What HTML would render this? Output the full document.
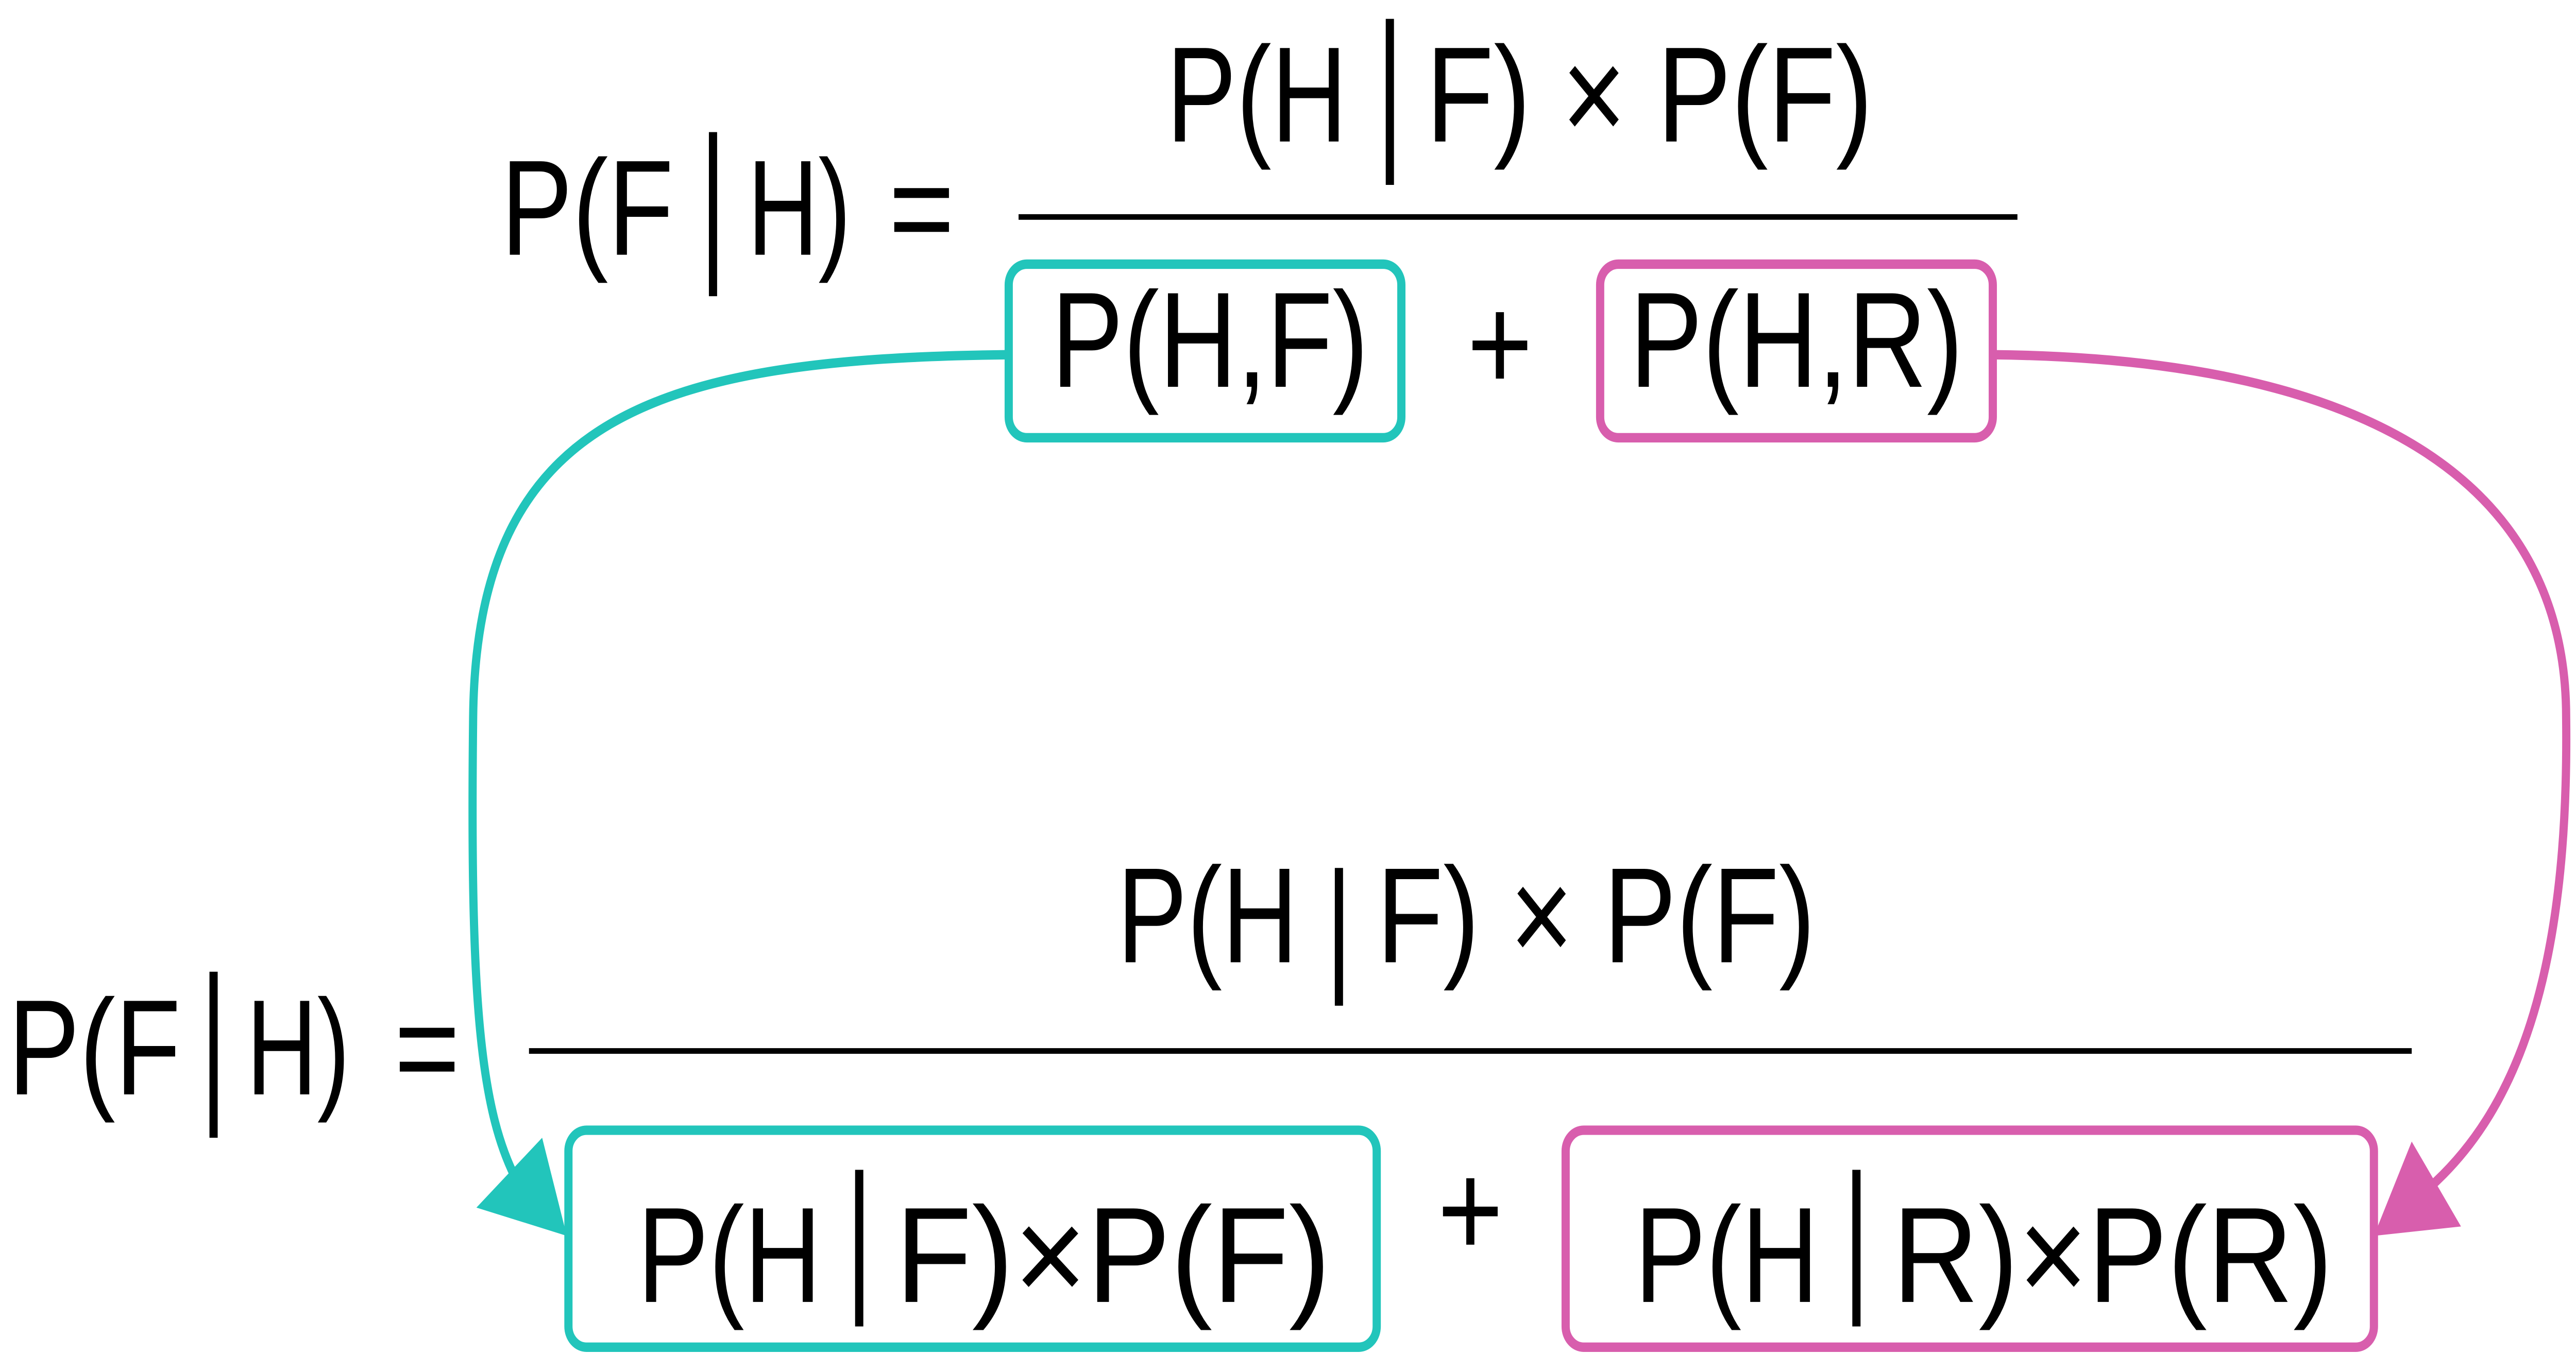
<!DOCTYPE html>
<html><head><meta charset="utf-8"><style>
html,body{margin:0;padding:0;background:#fff;width:100%;height:100%;overflow:hidden}
svg{display:block;position:fixed;left:0;top:0;width:100vw;height:100vh}
text{font-family:"Liberation Sans",sans-serif;font-size:72px;fill:#000}
</style></head><body>
<svg viewBox="0 0 1568 717.6" preserveAspectRatio="none" xmlns="http://www.w3.org/2000/svg">
<g>
<text x="305" y="135" textLength="105" lengthAdjust="spacingAndGlyphs">P(F</text>
<line x1="434" y1="70" x2="434" y2="157" stroke="#000" stroke-width="5"/>
<text x="455" y="135" textLength="63" lengthAdjust="spacingAndGlyphs">H)</text>
<text x="541" y="135" textLength="40" lengthAdjust="spacingAndGlyphs">=</text>
<text x="710" y="75" textLength="110" lengthAdjust="spacingAndGlyphs">P(H</text>
<line x1="846" y1="10" x2="846" y2="98" stroke="#000" stroke-width="5"/>
<text x="868" y="75" textLength="272" lengthAdjust="spacingAndGlyphs">F) × P(F)</text>
<line x1="620" y1="115" x2="1228" y2="115" stroke="#000" stroke-width="3"/>
<rect x="614" y="140" width="239" height="92" rx="11" fill="none" stroke="#22c5bb" stroke-width="5"/>
<text x="640" y="205" textLength="193" lengthAdjust="spacingAndGlyphs">P(H,F)</text>
<text x="893" y="207" textLength="40" lengthAdjust="spacingAndGlyphs">+</text>
<rect x="974" y="140" width="239" height="92" rx="11" fill="none" stroke="#d85ead" stroke-width="5"/>
<text x="992" y="205" textLength="203" lengthAdjust="spacingAndGlyphs">P(H,R)</text>
</g>
<path d="M613,188 C 400,190 290,220 288,380 C 286,530 292,590 316,628" fill="none" stroke="#22c5bb" stroke-width="5"/>
<polygon points="290,640 330,603 345,655" fill="#22c5bb"/>
<path d="M1213,188 C 1450,190 1562,260 1562,380 C 1564,520 1530,590 1478,630" fill="none" stroke="#d85ead" stroke-width="5"/>
<polygon points="1445,655 1468,605 1498,650" fill="#d85ead"/>
<g>
<text x="5" y="580" textLength="105" lengthAdjust="spacingAndGlyphs">P(F</text>
<line x1="130" y1="515" x2="130" y2="603" stroke="#000" stroke-width="5"/>
<text x="150" y="580" textLength="63" lengthAdjust="spacingAndGlyphs">H)</text>
<text x="240" y="580" textLength="40" lengthAdjust="spacingAndGlyphs">=</text>
<text x="680" y="510" textLength="110" lengthAdjust="spacingAndGlyphs">P(H</text>
<line x1="815" y1="460" x2="815" y2="533" stroke="#000" stroke-width="5"/>
<text x="838" y="510" textLength="267" lengthAdjust="spacingAndGlyphs">F) × P(F)</text>
<line x1="322" y1="557" x2="1468" y2="557" stroke="#000" stroke-width="3"/>
<rect x="346" y="599" width="492" height="115" rx="11" fill="none" stroke="#22c5bb" stroke-width="5"/>
<text x="388" y="690" textLength="112" lengthAdjust="spacingAndGlyphs">P(H</text>
<line x1="523" y1="620" x2="523" y2="703" stroke="#000" stroke-width="5"/>
<text x="545" y="690" textLength="265" lengthAdjust="spacingAndGlyphs">F)×P(F)</text>
<text x="875" y="666" textLength="40" lengthAdjust="spacingAndGlyphs">+</text>
<rect x="953" y="599" width="492" height="115" rx="11" fill="none" stroke="#d85ead" stroke-width="5"/>
<text x="995" y="690" textLength="112" lengthAdjust="spacingAndGlyphs">P(H</text>
<line x1="1130" y1="620" x2="1130" y2="703" stroke="#000" stroke-width="5"/>
<text x="1152" y="690" textLength="268" lengthAdjust="spacingAndGlyphs">R)×P(R)</text>
</g>
</svg>
</body></html>
